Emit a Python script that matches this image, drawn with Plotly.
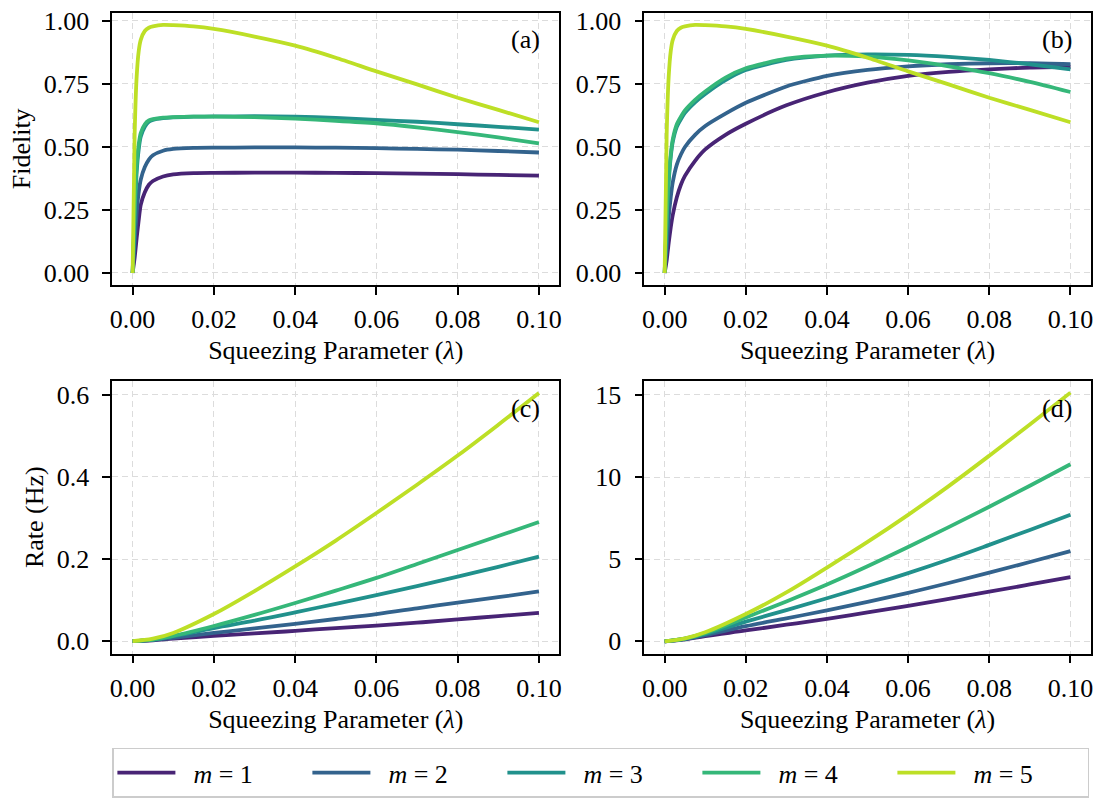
import plotly.graph_objects as go

# ---------------- data ----------------
labels = ["<i>m</i> = 1", "<i>m</i> = 2", "<i>m</i> = 3", "<i>m</i> = 4", "<i>m</i> = 5"]
colors = ["#482475", "#33638d", "#21918c", "#35b779", "#bddf26"]

lam_fid = [0, 0.0005, 0.001, 0.0015, 0.002, 0.003, 0.004, 0.005, 0.0075, 0.01,
           0.015, 0.02, 0.03, 0.04, 0.05, 0.06, 0.07, 0.08, 0.09, 0.1]

fid_a_m1 = [0, 0.06, 0.14, 0.21, 0.27, 0.32, 0.35, 0.365, 0.383, 0.391,
            0.396, 0.397, 0.398, 0.398, 0.397, 0.396, 0.394, 0.392, 0.389, 0.386]
fid_a_m2 = [0, 0.12, 0.24, 0.32, 0.37, 0.42, 0.45, 0.467, 0.485, 0.492,
            0.496, 0.497, 0.498, 0.498, 0.497, 0.495, 0.492, 0.489, 0.484, 0.478]
fid_a_m3 = [0, 0.22, 0.40, 0.49, 0.54, 0.58, 0.60, 0.607, 0.614, 0.617,
            0.620, 0.621, 0.622, 0.620, 0.615, 0.607, 0.600, 0.590, 0.580, 0.569]
fid_a_m4 = [0, 0.25, 0.43, 0.51, 0.555, 0.59, 0.605, 0.61, 0.616, 0.618,
            0.620, 0.620, 0.618, 0.612, 0.604, 0.594, 0.578, 0.559, 0.538, 0.514]
fid_m5 = [0, 0.55, 0.78, 0.88, 0.925, 0.96, 0.973, 0.978, 0.984, 0.983,
          0.978, 0.968, 0.938, 0.902, 0.854, 0.800, 0.748, 0.695, 0.647, 0.598]

fid_b_m1 = [0, 0.05, 0.12, 0.18, 0.23, 0.30, 0.35, 0.385, 0.445, 0.49,
            0.548, 0.592, 0.665, 0.717, 0.755, 0.782, 0.798, 0.808, 0.815, 0.818]
fid_b_m2 = [0, 0.10, 0.22, 0.30, 0.36, 0.43, 0.47, 0.50, 0.548, 0.583,
            0.632, 0.675, 0.74, 0.782, 0.806, 0.820, 0.828, 0.832, 0.832, 0.828]
fid_b_m3 = [0, 0.20, 0.36, 0.46, 0.52, 0.58, 0.61, 0.635, 0.677, 0.71,
            0.765, 0.805, 0.845, 0.862, 0.867, 0.865, 0.857, 0.845, 0.828, 0.808]
fid_b_m4 = [0, 0.22, 0.38, 0.47, 0.53, 0.59, 0.62, 0.645, 0.687, 0.72,
            0.775, 0.812, 0.850, 0.862, 0.858, 0.843, 0.820, 0.793, 0.758, 0.718]

lam_rate = [0, 0.005, 0.01, 0.02, 0.03, 0.04, 0.05, 0.06, 0.07, 0.08, 0.09, 0.1]

rate_c_m1 = [0, 0.002, 0.006, 0.013, 0.019, 0.025, 0.032, 0.038, 0.045, 0.053, 0.061, 0.069]
rate_c_m2 = [0, 0.003, 0.008, 0.020, 0.031, 0.042, 0.054, 0.066, 0.080, 0.094, 0.107, 0.121]
rate_c_m3 = [0, 0.004, 0.012, 0.032, 0.050, 0.070, 0.091, 0.112, 0.134, 0.157, 0.181, 0.206]
rate_c_m4 = [0, 0.004, 0.013, 0.037, 0.064, 0.093, 0.123, 0.154, 0.188, 0.222, 0.256, 0.290]
rate_c_m5 = [0, 0.006, 0.020, 0.066, 0.122, 0.182, 0.245, 0.312, 0.381, 0.452, 0.527, 0.604]

rate_d_m1 = [0, 0.12, 0.32, 0.66, 1.01, 1.37, 1.76, 2.16, 2.58, 3.02, 3.46, 3.91]
rate_d_m2 = [0, 0.14, 0.38, 0.92, 1.40, 1.88, 2.40, 2.95, 3.55, 4.18, 4.83, 5.49]
rate_d_m3 = [0, 0.16, 0.45, 1.20, 1.90, 2.62, 3.37, 4.15, 4.98, 5.87, 6.78, 7.71]
rate_d_m4 = [0, 0.17, 0.50, 1.45, 2.43, 3.46, 4.57, 5.74, 6.95, 8.19, 9.47, 10.78]
rate_d_m5 = [0, 0.18, 0.55, 1.66, 2.98, 4.49, 6.05, 7.70, 9.45, 11.30, 13.20, 15.14]

x_ticks = [0, 0.02, 0.04, 0.06, 0.08, 0.1]
fid_ticks = [0, 0.25, 0.5, 0.75, 1.0]
rate_c_ticks = [0, 0.2, 0.4, 0.6]
rate_d_ticks = [0, 5, 10, 15]
panel_labels = ["(a)", "(b)", "(c)", "(d)"]

# ---------------- figure ----------------
FONT = "Liberation Serif"
FS = 26

panels = [
    (lam_fid, [fid_a_m1, fid_a_m2, fid_a_m3, fid_a_m4, fid_m5], "x", "y", 0.6),
    (lam_fid, [fid_b_m1, fid_b_m2, fid_b_m3, fid_b_m4, fid_m5], "x2", "y2", 0.6),
    (lam_rate, [rate_c_m1, rate_c_m2, rate_c_m3, rate_c_m4, rate_c_m5], "x3", "y3", 1.0),
    (lam_rate, [rate_d_m1, rate_d_m2, rate_d_m3, rate_d_m4, rate_d_m5], "x4", "y4", 1.0),
]

fig = go.Figure()
for p, (xs, series, xa, ya, smooth) in enumerate(panels):
    for i, ys in enumerate(series):
        fig.add_trace(go.Scatter(
            x=xs, y=ys, mode="lines", xaxis=xa, yaxis=ya,
            line=dict(color=colors[i], width=3.8, shape="spline", smoothing=smooth),
            name="&nbsp;&nbsp;" + labels[i], legendgroup=labels[i], showlegend=(p == 0),
        ))

W, H = 1100, 798
def xdom(l, r):
    return [l / W, r / W]
def ydom(t, b):
    return [1 - b / H, 1 - t / H]

common_x = dict(
    range=[-0.005, 0.105], tickvals=x_ticks, tickformat=".2f",
    showline=True, mirror=True, linecolor="black", linewidth=1.7,
    ticks="outside", ticklen=8, tickwidth=1.6, tickcolor="black",
    showgrid=True, gridcolor="#dcdcdc", gridwidth=1.3, griddash="6px,4px",
    zeroline=False, tickfont=dict(family=FONT, size=FS, color="black"),
    ticklabelstandoff=2,
    title=dict(text="Squeezing Parameter (<i>λ</i>)", standoff=8,
               font=dict(family=FONT, size=FS, color="black")),
)
common_y = dict(
    showline=True, mirror=True, linecolor="black", linewidth=1.7,
    ticks="outside", ticklen=8, tickwidth=1.6, tickcolor="black",
    showgrid=True, gridcolor="#dcdcdc", gridwidth=1.3, griddash="6px,4px",
    zeroline=False, tickfont=dict(family=FONT, size=FS, color="black"),
    ticklabelstandoff=8,
)

L1, R1 = 110.7, 559.3
L2, R2 = 644.7, 1092.7
T1, B1 = 6.7, 283.7
T2, B2 = 381.0, 658.3

fig.update_layout(
    width=W, height=H, margin=dict(l=0, r=0, t=0, b=0),
    paper_bgcolor="white", plot_bgcolor="white",
    font=dict(family=FONT, size=FS, color="black"),
    xaxis=dict(common_x, domain=xdom(L1, R1), anchor="y"),
    xaxis2=dict(common_x, domain=xdom(L2, R2), anchor="y2"),
    xaxis3=dict(common_x, domain=xdom(L1, R1), anchor="y3"),
    xaxis4=dict(common_x, domain=xdom(L2, R2), anchor="y4"),
    yaxis=dict(common_y, domain=ydom(T1, B1), anchor="x", range=[-0.048, 1.033],
               tickvals=fid_ticks, tickformat=".2f",
               title=dict(text="Fidelity", standoff=6,
                          font=dict(family=FONT, size=FS, color="black"))),
    yaxis2=dict(common_y, domain=ydom(T1, B1), anchor="x2", range=[-0.048, 1.033],
                tickvals=fid_ticks, tickformat=".2f"),
    yaxis3=dict(common_y, domain=ydom(T2, B2), anchor="x3", range=[-0.0302, 0.634],
                tickvals=rate_c_ticks, tickformat=".1f",
                title=dict(text="Rate (Hz)", standoff=6,
                           font=dict(family=FONT, size=FS, color="black"))),
    yaxis4=dict(common_y, domain=ydom(T2, B2), anchor="x4", range=[-0.745, 15.86],
                tickvals=rate_d_ticks, tickformat="d"),
    legend=dict(
        orientation="h", x=110.8 / W, y=1 - 754 / H, xanchor="left", yanchor="top",
        bordercolor="#cccccc", borderwidth=1.5, bgcolor="white",
        itemwidth=58, entrywidth=122, entrywidthmode="pixels",
        font=dict(family=FONT, size=FS, color="black"),
        tracegroupgap=0,
    ),
    showlegend=True,
)

for k, lab in enumerate(panel_labels):
    suffix = "" if k == 0 else str(k + 1)
    fig.add_annotation(
        text=lab, xref=f"x{suffix} domain", yref=f"y{suffix} domain",
        x=0.962, y=0.9, xanchor="right", yanchor="middle", showarrow=False,
        font=dict(family=FONT, size=FS, color="black"),
    )

fig.write_html("out.html")
